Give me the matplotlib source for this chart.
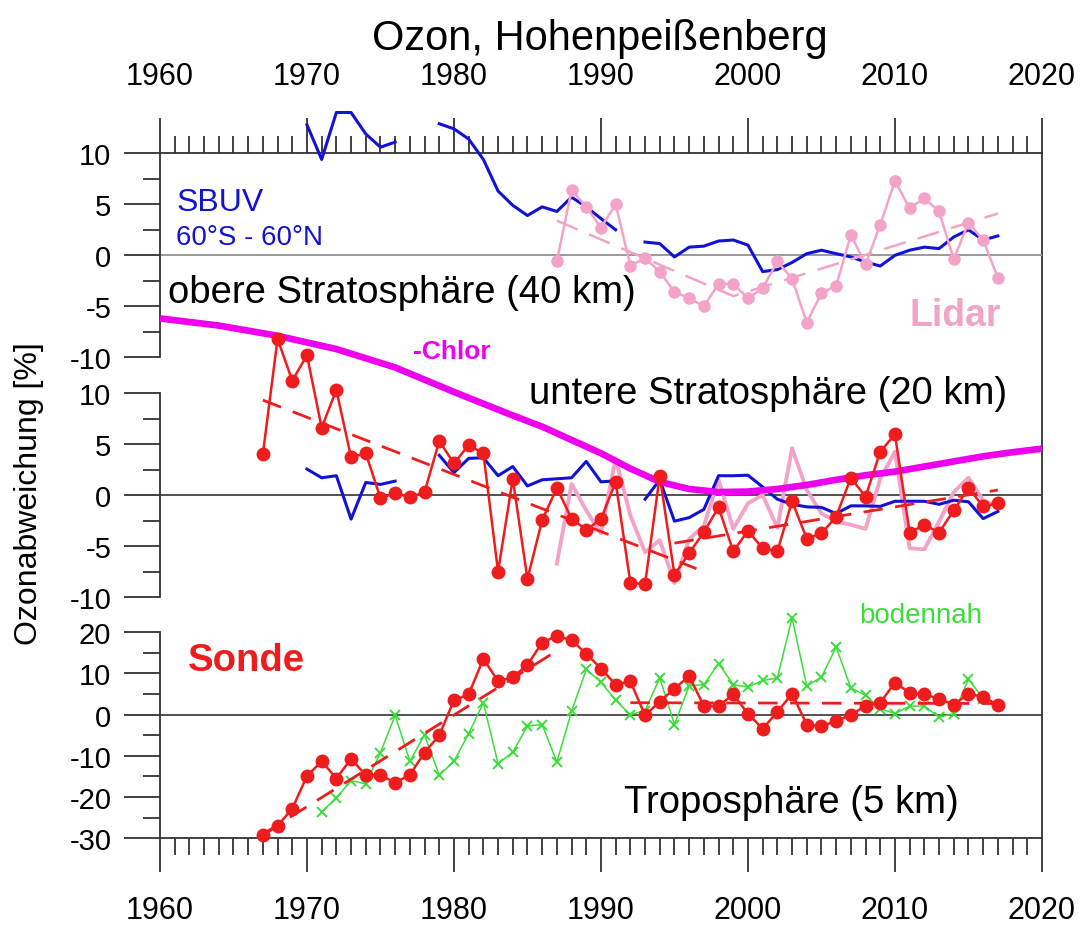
import matplotlib.pyplot as plt
from matplotlib.ticker import MultipleLocator, FixedLocator

plt.rcParams['font.family'] = ['Liberation Sans', 'DejaVu Sans']
plt.rcParams['axes.unicode_minus'] = False

# ---------------- data (ozone deviation in %) ----------------
# upper stratosphere (40 km)
sbuv_yrs_a = list(range(1970, 1977))
sbuv_yrs_b = list(range(1979, 1992))
sbuv_yrs_c = list(range(1993, 2018))
sbuv_top_a = [12.8, 9.4, 14.0, 14.0, 11.9, 10.6, 11.1]
sbuv_top_b = [12.9, 12.4, 11.4, 9.4, 6.3, 4.9, 3.9, 4.75, 4.3, 5.7, 4.75, 3.6, 2.5]
sbuv_top_c = [1.3, 1.15, -0.16, 0.8, 0.9, 1.4, 1.5, 1.0, -1.6, -1.4,
              -0.7, 0.16, 0.5, 0.16, -0.16, -0.66, -1.05, 0.0, 0.5, 0.8,
              0.66, 1.8, 2.5, 1.5, 1.9]

lidar_yrs = list(range(1987, 2018))
lidar_top = [-0.6, 6.4, 4.75, 2.7, 5.0, -1.0, -0.3, -1.6, -3.6, -4.2,
             -5.0, -2.8, -2.8, -4.2, -3.25, -0.6, -2.3, -6.6, -3.7, -3.0,
             2.0, -0.9, 3.0, 7.3, 4.6, 5.6, 4.3, -0.4, 3.2, 1.5, -2.2]
lidar_trend_yrs = [1987, 1999, 2017]
lidar_trend_top = [3.4, -4.0, 4.1]

# lower stratosphere (20 km)
sonde_yrs = list(range(1967, 2018))
sonde_mid = [4.0, 15.3, 11.2, 13.7, 6.6, 10.3, 3.7, 4.1, -0.3, 0.2,
             -0.2, 0.3, 5.3, 3.1, 4.9, 4.1, -7.5, 1.6, -8.2, -2.45,
             0.7, -2.3, -3.4, -2.35, 1.3, -8.6, -8.7, 1.9, -7.8, -5.7,
             -3.6, -1.2, -5.5, -3.5, -5.2, -5.5, -0.6, -4.25, -3.75, -2.1,
             1.7, -0.16, 4.25, 5.95, -3.66, -2.9, -3.66, -1.5, 0.7, -1.1, -0.8]
sbuv_mid_a = [2.55, 1.7, 1.9, -2.35, 1.24, 1.05, 1.37]
sbuv_mid_b = [3.9, 2.2, 3.6, 3.66, 1.9, 2.8, 0.9, 1.5, 1.6, 1.7, 3.3, 1.3, 1.4]
sbuv_mid_c = [-0.4, 1.5, -2.55, -2.2, -1.4, 1.9, 1.9, 1.95, 0.8, -0.4,
              -0.9, -1.15, -1.2, -1.8, -1.05, -1.05, -1.1, -0.6, -0.6, -0.6,
              -0.9, -0.5, -0.65, -2.3, -1.6]
lidar_mid = [-6.7, 1.1, -1.5, -3.75, 3.6, -2.0, -5.6, -4.4, -8.6, -4.3,
             -3.0, 1.5, -3.3, -0.8, 0.0, -3.2, 4.6, 0.5, -1.8, -2.6,
             -2.9, -3.3, 1.6, 4.25, -5.2, -5.3, -2.6, 0.3, 1.7, -0.5, -1.1]
sonde_mid_trend1 = ([1967, 1996.5], [9.3, -7.2])
sonde_mid_trend2 = ([1995, 2017], [-4.7, 0.5])

chlor_yrs = [1960, 1964, 1968, 1972, 1976, 1980, 1984, 1986, 1988, 1990, 1992,
             1994, 1996, 1998, 2000, 2002, 2004, 2006, 2008, 2010, 2012,
             2014, 2016, 2018, 2020]
chlor_val = [17.3, 16.6, 15.6, 14.3, 12.5, 10.1, 7.8, 6.7, 5.4, 4.1, 2.6,
             1.3, 0.6, 0.3, 0.35, 0.6, 1.0, 1.5, 1.95, 2.3, 2.8,
             3.3, 3.8, 4.2, 4.55]

# troposphere (5 km)
sonde_bot = [-29.3, -27.0, -22.8, -14.9, -11.3, -15.5, -10.7, -14.7, -14.7, -16.5,
             -14.6, -9.2, -5.0, 3.5, 4.9, 13.6, 8.1, 9.1, 12.1, 17.5,
             19.1, 18.1, 14.8, 11.2, 7.3, 8.1, -0.16, 3.2, 6.3, 9.4,
             2.1, 2.1, 4.9, 0.24, -3.4, 0.65, 5.1, -2.4, -2.75, -1.6,
             0.0, 2.1, 2.9, 7.8, 5.3, 4.9, 3.9, 2.4, 5.1, 4.3, 2.4]
ground_yrs = list(range(1971, 2017))
ground_bot = [-23.6, -20.2, -16.0, -16.8, -9.2, -0.16, -11.3, -4.9, -14.7, -11.3,
              -4.6, 2.9, -11.9, -9.1, -2.75, -2.4, -11.5, 0.8, 11.0, 7.9,
              3.5, 0.0, 1.0, 8.9, -2.4, 7.0, 7.3, 12.4, 7.3, 6.7,
              8.3, 8.9, 23.5, 7.0, 9.1, 16.4, 6.5, 4.7, 1.5, 0.24,
              2.1, 2.1, -0.6, 0.24, 8.6, 3.9]
sonde_bot_trend1 = ([1967, 1987], [-29.0, 15.5])
sonde_bot_trend2 = ([1992, 2018], [2.9, 2.7])

# ---------------- colours ----------------
RED = '#ee1c1c'
BLUE = '#1212d4'
PINK = '#f4a3c8'
MAGENTA = '#ee00ee'
GREEN = '#3ddc3d'
AXC = '#333333'
DASH = (0, (7, 4.5))

fig = plt.figure(figsize=(10.83, 9.29), dpi=100)
L, W = 0.1477, 0.8144
ax_bg = fig.add_axes([L, 0.0966, W, 0.7373])
ax_top = fig.add_axes([L, 0.6143, W, 0.2196])
ax_mid = fig.add_axes([L, 0.3560, W, 0.2199])
ax_bot = fig.add_axes([L, 0.0966, W, 0.2217])

# background axes only carries the continuous right frame line
ax_bg.set_xticks([])
ax_bg.set_yticks([])
ax_bg.patch.set_alpha(0)
for name, sp in ax_bg.spines.items():
    sp.set_visible(name == 'right')
ax_bg.spines['right'].set_color(AXC)
ax_bg.spines['right'].set_linewidth(1.3)


def style(ax, ylim, major, minor):
    ax.set_xlim(1960, 2020)
    ax.set_ylim(*ylim)
    ax.patch.set_alpha(0)
    for sp in ax.spines.values():
        sp.set_visible(False)
        sp.set_color(AXC)
        sp.set_linewidth(1.3)
    ax.spines['left'].set_visible(True)
    ax.yaxis.set_major_locator(FixedLocator(major))
    ax.yaxis.set_minor_locator(FixedLocator(minor))
    ax.tick_params(axis='y', which='major', direction='out', length=26,
                   width=1.3, color=AXC, pad=9, labelsize=21)
    ax.tick_params(axis='y', which='minor', direction='out', length=12.5,
                   width=1.3, color=AXC)
    ax.xaxis.set_major_locator(MultipleLocator(10))
    ax.xaxis.set_minor_locator(MultipleLocator(1))


style(ax_top, (-10, 10), [-10, -5, 0, 5, 10], [-7.5, -2.5, 2.5, 7.5])
style(ax_mid, (-10, 10), [-10, -5, 0, 5, 10], [-7.5, -2.5, 2.5, 7.5])
style(ax_bot, (-30, 20), [-30, -20, -10, 0, 10, 20], [-25, -15, -5, 5, 15])

ax_top.spines['top'].set_visible(True)
ax_top.tick_params(axis='x', which='both', top=True, bottom=False,
                   labeltop=True, labelbottom=False, direction='out',
                   width=1.3, color=AXC)
ax_top.tick_params(axis='x', which='major', length=25, pad=20, labelsize=22)
ax_top.tick_params(axis='x', which='minor', length=12)

ax_mid.tick_params(axis='x', which='both', top=False, bottom=False,
                   labelbottom=False)

ax_bot.spines['bottom'].set_visible(True)
ax_bot.tick_params(axis='x', which='both', direction='out', width=1.3, color=AXC)
ax_bot.tick_params(axis='x', which='major', length=24.5, pad=16, labelsize=22)
ax_bot.tick_params(axis='x', which='minor', length=12)

ax_top.axhline(0, color='#9a9a9a', lw=1.4, zorder=1)
ax_mid.axhline(0, color=AXC, lw=1.2, zorder=1)
ax_bot.axhline(0, color=AXC, lw=1.2, zorder=1)

# ---- upper stratosphere ----
for yrs, vals in ((sbuv_yrs_a, sbuv_top_a), (sbuv_yrs_b, sbuv_top_b),
                  (sbuv_yrs_c, sbuv_top_c)):
    ax_top.plot(yrs, vals, color=BLUE, lw=2.2, zorder=3, clip_on=False)
ax_top.plot(lidar_trend_yrs, lidar_trend_top, color=PINK, lw=1.8,
            ls=(0, (9, 5)), zorder=3.5, clip_on=False)
ax_top.plot(lidar_yrs, lidar_top, color=PINK, lw=1.8, marker='o', ms=8,
            zorder=4, clip_on=False)

# ---- lower stratosphere ----
ax_mid.plot(lidar_yrs, lidar_mid, color=PINK, lw=2.8, zorder=2, clip_on=False)
for yrs, vals in ((sbuv_yrs_a, sbuv_mid_a), (sbuv_yrs_b, sbuv_mid_b),
                  (sbuv_yrs_c, sbuv_mid_c)):
    ax_mid.plot(yrs, vals, color=BLUE, lw=2.2, zorder=3, clip_on=False)
ax_mid.plot(chlor_yrs, chlor_val, color=MAGENTA, lw=4.8, zorder=3.5,
            clip_on=False, solid_capstyle='butt', solid_joinstyle='round')
for tx, ty in (sonde_mid_trend1, sonde_mid_trend2):
    ax_mid.plot(tx, ty, color=RED, lw=2.0, ls=DASH, zorder=4, clip_on=False)
ax_mid.plot(sonde_yrs, sonde_mid, color=RED, lw=1.8, marker='o', ms=9,
            zorder=5, clip_on=False)

# ---- troposphere ----
ax_bot.plot(ground_yrs, ground_bot, color=GREEN, lw=1.1, marker='x', ms=7,
            mew=1.4, zorder=3, clip_on=False)
for tx, ty in (sonde_bot_trend1, sonde_bot_trend2):
    ax_bot.plot(tx, ty, color=RED, lw=2.0, ls=DASH, zorder=4, clip_on=False)
ax_bot.plot(sonde_yrs, sonde_bot, color=RED, lw=1.8, marker='o', ms=9,
            zorder=5, clip_on=False)

# ---- texts ----
ax_top.text(1961.1, 4.4, 'SBUV', color=BLUE, fontsize=23)
ax_top.text(1961.1, 1.14, '60°S - 60°N', color=BLUE, fontsize=20)
ax_top.text(1960.55, -4.55, 'obere Stratosphäre (40 km)', fontsize=27.5)
ax_top.text(2011.0, -6.84, 'Lidar', color=PINK, fontsize=27,
            fontweight='bold')
ax_top.text(1977.2, -10.1, '-Chlor', color=MAGENTA, fontsize=19,
            fontweight='bold')
ax_mid.text(2017.6, 9.0, 'untere Stratosphäre (20 km)', fontsize=27.5,
            ha='right')
ax_bot.text(1961.9, 10.75, 'Sonde', color=RED, fontsize=27.5,
            fontweight='bold')
ax_bot.text(2007.6, 22.5, 'bodennah', color=GREEN, fontsize=20)
ax_bot.text(1991.6, -23.6, 'Troposphäre (5 km)', fontsize=27.5)

fig.text(0.554, 0.946, 'Ozon, Hohenpeißenberg', fontsize=30,
         ha='center', va='baseline')
fig.text(0.027, 0.469, 'Ozonabweichung [%]', fontsize=23, rotation=90,
         ha='center', va='center')

fig.savefig('out.png', dpi=100)
